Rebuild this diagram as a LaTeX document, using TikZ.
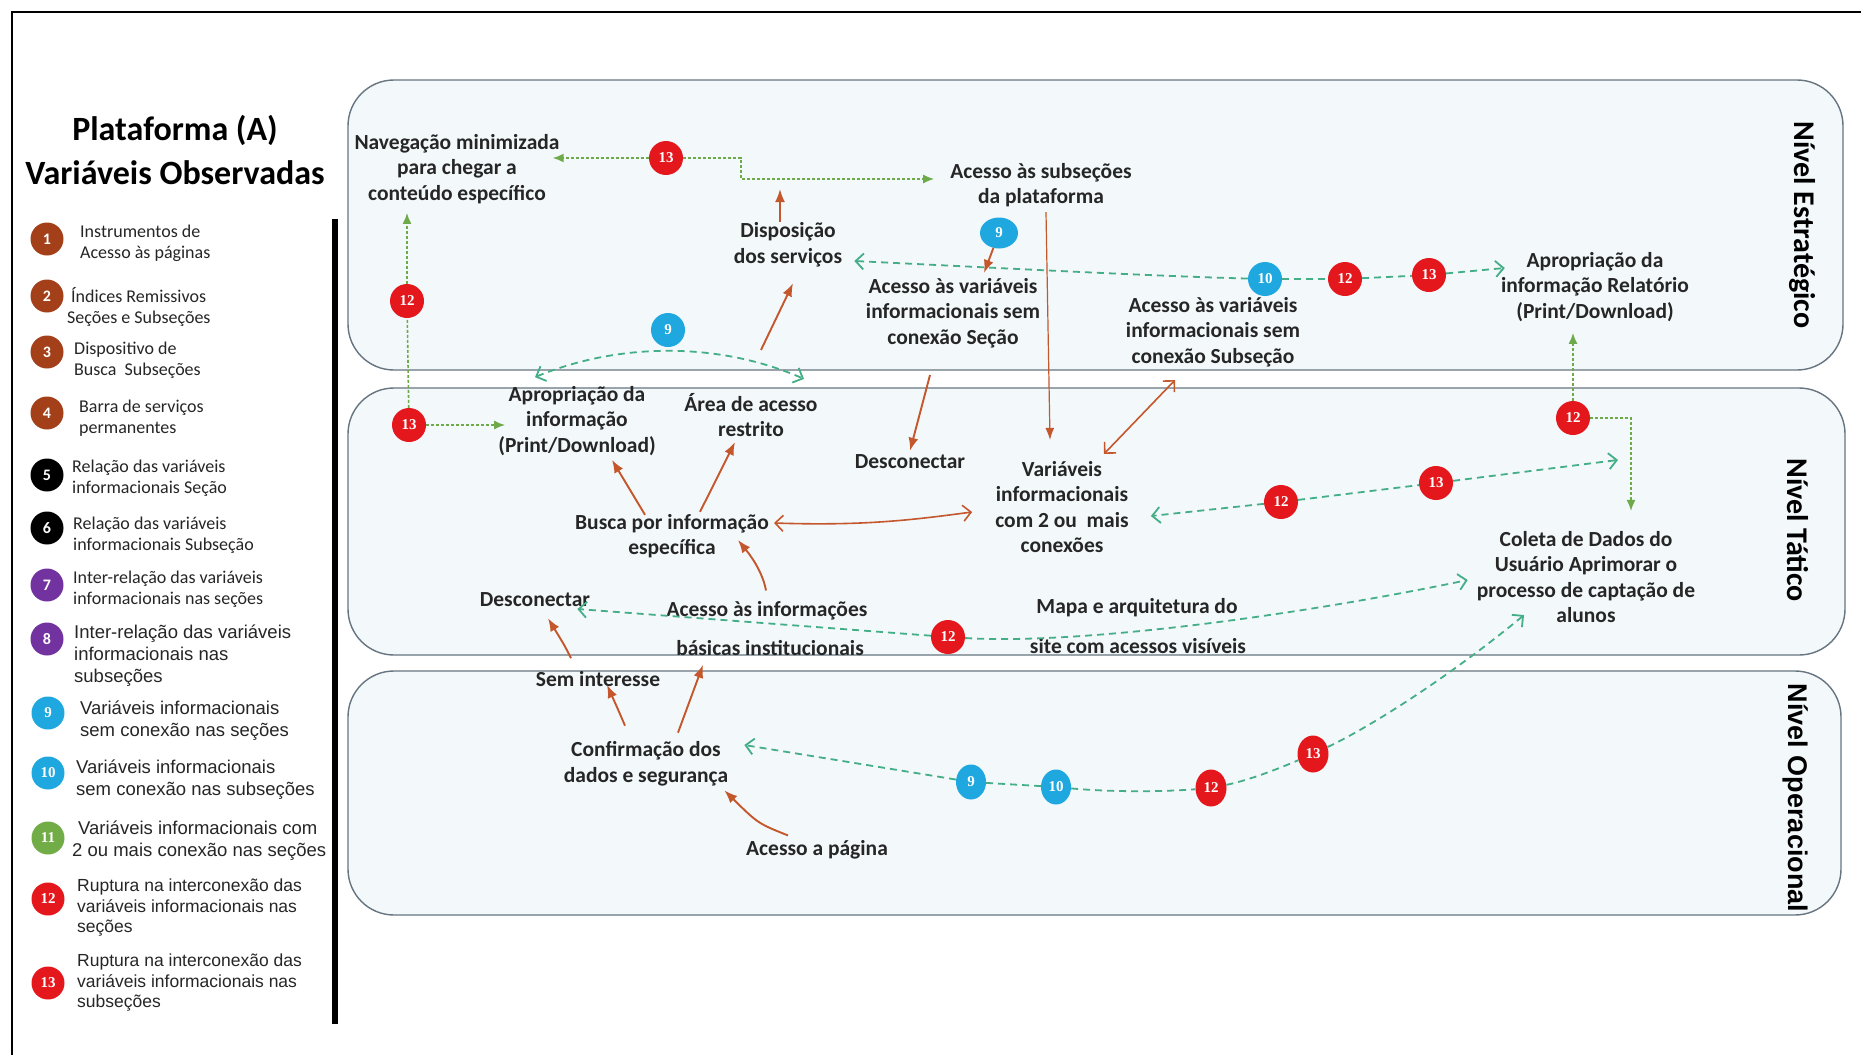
\documentclass[tikz,border=0pt]{standalone}
\usepackage{fontspec}
\setmainfont{Carlito}
\newfontfamily\arialf{Liberation Sans}
\newfontfamily\serifnum{Liberation Serif}
\usetikzlibrary{arrows.meta,shapes.geometric,calc}

\definecolor{boxfill}{HTML}{F3F8FB}
\definecolor{boxline}{HTML}{66757F}
\definecolor{txt}{HTML}{262626}
\definecolor{flow}{HTML}{C4572B}
\definecolor{gline}{HTML}{6EAA4A}
\definecolor{tline}{HTML}{44AE86}
\definecolor{bred}{HTML}{E4171D}
\definecolor{bcyan}{HTML}{1EA8DF}
\definecolor{lbrown}{HTML}{A3401A}
\definecolor{lpurple}{HTML}{7232A0}
\definecolor{lgreen}{HTML}{71AC46}

\begin{document}
\begin{tikzpicture}[x=1pt,y=-1pt,
  lvlbox/.style={draw=boxline, fill=boxfill, line width=1.4pt, rounded corners=46pt},
  lbl/.style={font=\bfseries\fontsize{21.5}{25.5}\selectfont, text=txt, align=center, inner sep=1pt},
  lvl/.style={font=\bfseries\fontsize{30}{30}\selectfont, text=black, rotate=-90, inner sep=0pt},
  badge/.style={circle, minimum size=34pt, inner sep=0pt, text=white, font=\serifnum\bfseries\fontsize{15}{15}\selectfont},
  rb/.style={badge, fill=bred},
  cb/.style={badge, fill=bcyan},
  lgc/.style={circle, minimum size=33pt, inner sep=0pt, text=white, font=\bfseries\fontsize{16}{16}\selectfont},
  lgs/.style={lgc, font=\serifnum\bfseries\fontsize{15}{15}\selectfont},
  lgt/.style={anchor=west, align=left, inner sep=0pt, text=txt, font=\fontsize{18}{21}\selectfont},
  lga/.style={anchor=west, align=left, inner sep=0pt, text=txt, font=\arialf\fontsize{18.5}{22}\selectfont},
  lgb/.style={anchor=west, align=left, inner sep=0pt, text=txt, font=\arialf\fontsize{17.5}{20.5}\selectfont},
  oarrow/.style={draw=flow, line width=1.9pt, -{Latex[length=13pt,width=10pt]}},
  othin/.style={draw=flow, line width=1.2pt, -{Latex[length=12pt,width=9pt]}},
  odbl/.style={draw=flow, line width=1.6pt, {Straight Barb[length=8pt,width=16pt]}-{Straight Barb[length=8pt,width=16pt]}},
  gdot/.style={draw=gline, line width=1.6pt, dash pattern=on 3pt off 2pt},
  gtip/.style={gdot, -{Latex[length=11pt,width=9pt]}},
  tdash/.style={draw=tline, line width=1.8pt, dash pattern=on 7pt off 5pt},
  ttip/.style={tdash, -{Straight Barb[length=8pt,width=16pt]}},
  tboth/.style={tdash, {Straight Barb[length=8pt,width=16pt]}-{Straight Barb[length=8pt,width=16pt]}}
]
\useasboundingbox (0,0) rectangle (1861,1055);
\fill[white] (0,0) rectangle (1861,1055);

% frame and divider
\draw[black, line width=1.5pt] (12,1055) -- (12,12) -- (1861,12);
\fill[black] (332,219) rectangle (338,1024);

% level containers
\draw[lvlbox] (348,80) rectangle (1843,370);
\draw[lvlbox] (348,388) rectangle (1845,655);
\draw[lvlbox] (348,671) rectangle (1841,915);

\node[lvl] (lvE) at (1802,225) {Nível Estratégico};
\node[lvl] (lvT) at (1798,530) {Nível Tático};
\node[lvl, font=\arialf\bfseries\fontsize{27}{27}\selectfont] (lvO) at (1796,798) {Nível Operacional};

% title
\node[font=\bfseries\fontsize{34}{44}\selectfont, align=center, text=black] (title) at (175,150) {Plataforma (A)\\Variáveis Observadas};

% legend
\node[lgc, fill=lbrown] (l1) at (47,239) {1};
\node[lgt] (t1) at (80,243) {Instrumentos de\\Acesso às páginas};
\node[lgc, fill=lbrown] (l2) at (47,296) {2};
\node[lgt] (t2) at (71,307) {Índices Remissivos\\\hspace*{-4pt}Seções e Subseções};
\node[lgc, fill=lbrown] (l3) at (47,352) {3};
\node[lgt] (t3) at (74,360) {Dispositivo de\\Busca~ Subseções};
\node[lgc, fill=lbrown] (l4) at (47,413) {4};
\node[lgt] (t4) at (79,418) {Barra de serviços\\permanentes};
\node[lgc, fill=black] (l5) at (47,475) {5};
\node[lgt] (t5) at (72,478) {Relação das variáveis\\informacionais Seção};
\node[lgc, fill=black] (l6) at (47,528) {6};
\node[lgt] (t6) at (73,535) {Relação das variáveis\\informacionais Subseção};
\node[lgc, fill=lpurple] (l7) at (47,585) {7};
\node[lgt] (t7) at (73,589) {Inter-relação das variáveis\\informacionais nas seções};
\node[lgc, fill=lpurple] (l8) at (47,639) {8};
\node[lga] (t8) at (74,656) {Inter-relação das variáveis\\informacionais nas\\subseções};
\node[lgs, fill=bcyan] (l9) at (48,713) {9};
\node[lga] (t9) at (80,721) {Variáveis informacionais\\sem conexão nas seções};
\node[lgs, fill=bcyan] (l10) at (48,773) {10};
\node[lga] (t10) at (76,780) {Variáveis informacionais\\sem conexão nas subseções};
\node[lgs, fill=lgreen] (l11) at (48,838) {11};
\node[lga] (t11) at (78,841) {Variáveis informacionais com\\\hspace*{-6pt}2 ou mais conexão nas seções};
\node[lgs, fill=bred] (l12) at (48,899) {12};
\node[lgb] (t12) at (77,908) {Ruptura na interconexão das\\variáveis informacionais nas\\seções};
\node[lgs, fill=bred] (l13) at (48,983) {13};
\node[lgb] (t13) at (77,983) {Ruptura na interconexão das\\variáveis informacionais nas\\subseções};

% strategic level
\node[lbl] (nav) at (457,169) {Navegação minimizada\\para chegar a\\conteúdo específico};
\node[lbl] (subsec) at (1041,185) {Acesso às subseções\\da plataforma};
\node[lbl] (dispo) at (788,245) {Disposição\\dos serviços};
\node[lbl] (varsec) at (953,313) {Acesso às variáveis\\informacionais sem\\conexão Seção};
\node[lbl] (varsub) at (1213,332) {Acesso às variáveis\\informacionais sem\\conexão Subseção};
\node[lbl] (aprel) at (1595,287) {Apropriação da\\informação Relatório\\(Print/Download)};

% tactical level
\node[lbl] (apro) at (577,421) {Apropriação da\\informação\\(Print/Download)};
\node[lbl] (area) at (751,415) {Área de acesso\\restrito};
\node[lbl] (descR) at (910,462) {Desconectar};
\node[lbl] (var2) at (1062,507) {Variáveis\\informacionais\\com 2 ou~ mais\\conexões};
\node[lbl] (busca) at (672,536) {Busca por informação\\específica};
\node[lbl] (coleta) at (1586,577) {Coleta de Dados do\\Usuário Aprimorar o\\processo de captação de\\alunos};
\node[lbl] (descL) at (535,600) {Desconectar};
\node[lbl] (acinfo) at (767,611) {Acesso às informações};
\node[lbl] (basicas) at (770,648) {básicas institucionais};
\node[lbl] (mapa) at (1137,608) {Mapa e arquitetura do};
\node[lbl] (site) at (1138,646) {site com acessos visíveis};

% operational level
\node[lbl] (semint) at (598,679) {Sem interesse};
\node[lbl] (conf) at (646,764) {Confirmação dos\\dados e segurança};
\node[lbl] (acpag) at (817,850) {Acesso a página};

% numbered markers
\node[rb] (b13a) at (666,158) {13};
\node[rb] (b12a) at (407,301) {12};
\node[cb] (b9a) at (668,330) {9};
\node[cb, ellipse, minimum width=38pt, minimum height=31pt] (b9b) at (999,233) {9};
\node[cb] (b10a) at (1265,279) {10};
\node[rb] (b12b) at (1345,279) {12};
\node[rb] (b13b) at (1429,275) {13};
\node[rb] (b13c) at (409,425) {13};
\node[rb] (b12c) at (1573,418) {12};
\node[rb] (b12d) at (1281,502) {12};
\node[rb] (b13d) at (1436,483) {13};
\node[rb] (b12e) at (948,637) {12};
\node[cb, ellipse, minimum width=30pt, minimum height=35pt] (b9c) at (971,782) {9};
\node[cb, ellipse, minimum width=30pt, minimum height=35pt] (b10c) at (1056,787) {10};
\node[rb, ellipse, minimum width=31pt, minimum height=37pt] (b12f) at (1211,788) {12};
\node[rb, ellipse, minimum width=31pt, minimum height=37pt] (b13e) at (1313,754) {13};

% solid flow arrows
\coordinate (dispoUp) at (780,189);
\draw[oarrow] (dispo.north -| dispoUp) -- (dispoUp);
\draw[oarrow] ($(area.north)+(10,-42)$) -- ($(dispo.south)+(5,15)$);
\draw[oarrow] (b9b) -- ($(varsec.north)+(31,-4)$);
\draw[othin] ($(subsec.south)+(5,4)$) -- ($(var2.north)+(-12,-20)$);
\draw[oarrow] ($(varsec.south)+(-23,26)$) -- ($(descR.north)+(0,-3)$);
\draw[odbl] ($(var2.north)+(42,-6)$) -- ($(varsub.south)+(-38,12)$);
\draw[odbl] ($(busca.east)+(4,-13)$) .. controls +(90,3) and +(-60,8) .. ($(var2.west)+(-22,5)$);
\draw[oarrow] ($(busca.north)+(-27,2)$) -- ($(apro.south)+(35,3)$);
\draw[oarrow] ($(busca.north)+(28,-1)$) -- ($(area.south)+(-16,4)$);
\draw[oarrow] ($(acinfo.north)+(-1,-10)$) .. controls +(-4,-22) and +(8,10) .. ($(busca.east)+(-32,4)$);
\draw[oarrow] ($(semint.north)+(-27,-12)$) .. controls +(-6,-12) .. ($(descL.south)+(13,10)$);
\draw[oarrow] ($(conf.north)+(-21,-15)$) .. controls +(-6,-14) .. ($(semint.south)+(9,-3)$);
\draw[oarrow] ($(conf.north)+(32,-8)$) -- ($(basicas.south)+(-67,8)$);
\draw[oarrow] ($(acpag.north)+(-29,-4)$) .. controls +(-30,-12) .. ($(conf.south east)+(-5,3)$);

% dotted links with filled tips
\coordinate (navR) at ($(nav.east)+(-8,0)$);
\coordinate (gk1) at (741,158);
\coordinate (subsecL) at ($(subsec.west)+(-15,-6)$);
\draw[gtip] (b13a) -- (navR |- b13a);
\draw[gtip] (b13a) -- (gk1) |- (subsecL);
\coordinate (navB) at ($(nav.south)+(0,8)$);
\draw[gdot] (b13c) -- (b12a);
\draw[gtip] (b12a) -- (b12a |- navB);
\coordinate (aproW) at ($(apro.west)+(8,0)$);
\draw[gtip] (b13c) -- (aproW |- b13c);
\coordinate (aprelB) at ($(aprel.south)+(0,10)$);
\draw[gtip] (b12c) -- (b12c |- aprelB);
\coordinate (coleN) at ($(coleta.north)+(45,-19)$);
\draw[gtip] (b12c) -| (coleN);

% dashed links with open tips
\coordinate (dispoR) at ($(dispo.east)+(11,16)$);
\draw[ttip] (b10a) .. controls (1150,276) and (1000,268) .. (dispoR);
\draw[tdash] (b10a) -- (b12b);
\draw[tdash] (b12b) -- (b13b);
\coordinate (aprelW) at ($(aprel.west)+(5,-19)$);
\draw[ttip] (b13b) -- (aprelW);

\coordinate (aroL) at ($(apro.north)+(-42,-8)$);
\coordinate (aroR) at ($(area.north)+(53,-13)$);
\draw[tboth] (aroL) .. controls (620,342) and (720,342) .. (aroR);

\coordinate (var2E) at ($(var2.east)+(21,9)$);
\draw[ttip] (b12d) -- (var2E);
\draw[tdash] (b12d) -- (b13d);
\coordinate (coleNW) at ($(coleta.north)+(32,-70)$);
\draw[ttip] (b13d) -- (coleNW);

\coordinate (descLE) at ($(descL.east)+(-14,9)$);
\draw[ttip] (b12e) -- (descLE);
\coordinate (coleW) at ($(coleta.west)+(-8,3)$);
\draw[ttip] (b12e) .. controls (1080,645) and (1300,615) .. (coleW);

\coordinate (confE) at ($(conf.east)+(15,-19)$);
\draw[ttip] (b9c) -- (confE);
\draw[tdash] (b9c) -- (b10c);
\draw[tdash] (b10c) .. controls (1110,792) and (1160,792) .. (b12f);
\draw[tdash] (b12f) .. controls (1250,780) and (1280,768) .. (b13e);
\coordinate (coleS) at ($(coleta.south)+(-62,-9)$);
\draw[ttip] (b13e) .. controls (1380,722) and (1460,668) .. (coleS);
\end{tikzpicture}
\end{document}
